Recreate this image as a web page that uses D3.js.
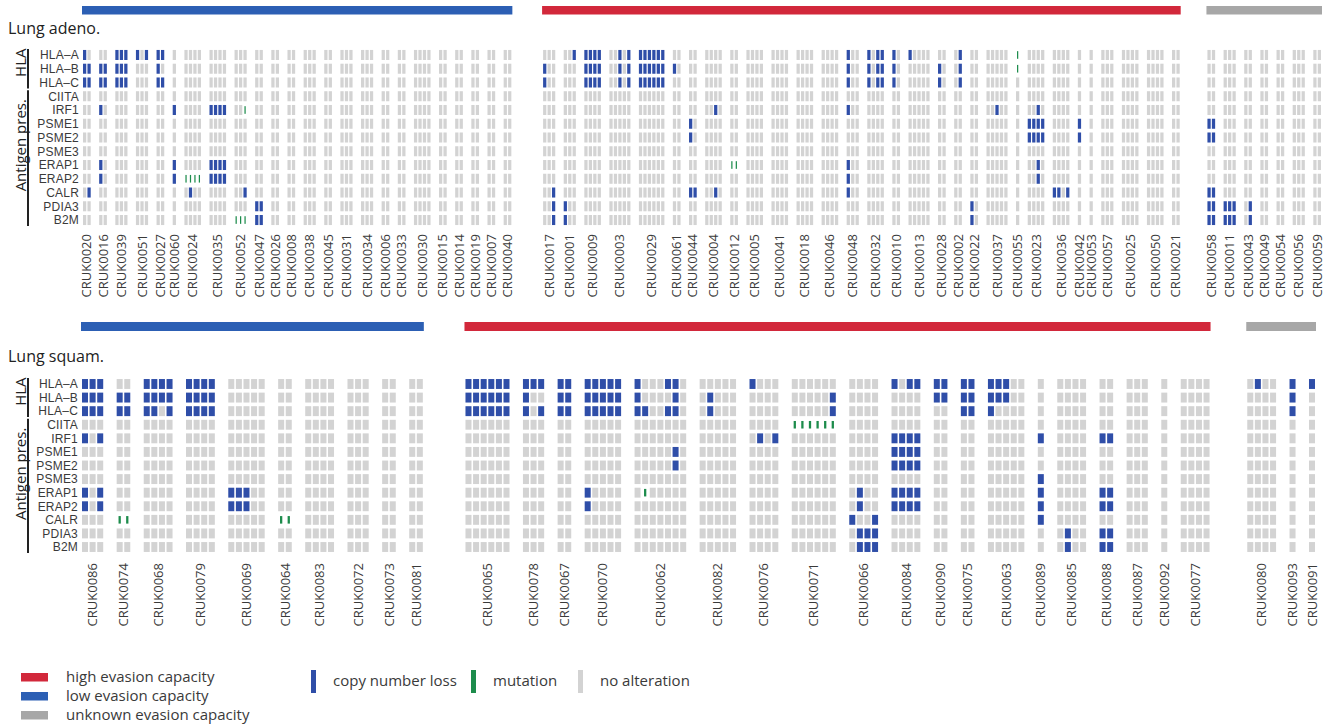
<!DOCTYPE html>
<html>
<head>
<meta charset="utf-8">
<script src="https://cdn.jsdelivr.net/npm/d3@7"></script>
<style>
  html, body { margin: 0; padding: 0; background: #fff; }
  svg { display: block; font-family: "Open Sans", "DejaVu Sans", sans-serif; }
</style>
</head>
<body>
<svg id="chart" width="1333" height="726"></svg>
<script>
// ---------------- data ----------------
const genes = ["HLA-A","HLA-B","HLA-C","CIITA","IRF1","PSME1","PSME2","PSME3","ERAP1","ERAP2","CALR","PDIA3","B2M"];
const geneLabels = ["HLA–A","HLA–B","HLA–C","CIITA","IRF1","PSME1","PSME2","PSME3","ERAP1","ERAP2","CALR","PDIA3","B2M"];
const geneSets = [["HLA","HLA-A","HLA-C"],["Antigen pres.","CIITA","B2M"]];

const capacityLevels = ["high","low","unknown"];
const capacityNames = ["high evasion capacity","low evasion capacity","unknown evasion capacity"];
const alterationKinds = ["L","M","N"];
const alterationNames = ["copy number loss","mutation","no alteration"];

// Lung adenocarcinoma: patients, number of tumour regions, evasion capacity
const adenoPatients = ["CRUK0020","CRUK0016","CRUK0039","CRUK0051","CRUK0027","CRUK0060","CRUK0024","CRUK0035","CRUK0052","CRUK0047","CRUK0026","CRUK0008","CRUK0038","CRUK0045","CRUK0031","CRUK0034","CRUK0006","CRUK0033","CRUK0030","CRUK0015","CRUK0014","CRUK0019","CRUK0007","CRUK0040",
  "CRUK0017","CRUK0001","CRUK0009","CRUK0003","CRUK0029","CRUK0061","CRUK0044","CRUK0004","CRUK0012","CRUK0005","CRUK0041","CRUK0018","CRUK0046","CRUK0048","CRUK0032","CRUK0010","CRUK0013","CRUK0028","CRUK0002","CRUK0022","CRUK0037","CRUK0055","CRUK0023","CRUK0036","CRUK0042","CRUK0053","CRUK0057","CRUK0025","CRUK0050","CRUK0021",
  "CRUK0058","CRUK0011","CRUK0043","CRUK0049","CRUK0054","CRUK0056","CRUK0059"];
const adenoRegions = [2,2,3,3,2,1,4,4,3,2,2,2,3,2,3,3,2,2,4,2,2,2,2,2,
  3,3,4,5,6,2,2,4,2,4,4,4,4,3,4,2,5,2,2,2,5,1,4,4,1,1,3,4,4,2,
  2,3,2,2,2,3,2];
const adenoCapacity = [].concat(Array(24).fill("low"), Array(30).fill("high"), Array(7).fill("unknown"));

// events: patient, gene, regions, kind (L = copy number loss, M = mutation)
const adenoEvents = [
  ["CRUK0020","HLA-A",[1],"L"],["CRUK0020","HLA-B",[1,2],"L"],["CRUK0020","HLA-C",[1,2],"L"],["CRUK0020","CALR",[2],"L"],
  ["CRUK0016","HLA-B",[1,2],"L"],["CRUK0016","HLA-C",[1,2],"L"],["CRUK0016","IRF1",[1],"L"],["CRUK0016","ERAP1",[1],"L"],["CRUK0016","ERAP2",[1],"L"],
  ["CRUK0039","HLA-A",[1,2,3],"L"],["CRUK0039","HLA-B",[1,2,3],"L"],["CRUK0039","HLA-C",[1,2,3],"L"],
  ["CRUK0051","HLA-A",[1,3],"L"],
  ["CRUK0027","HLA-A",[1,2],"L"],["CRUK0027","HLA-B",[1],"L"],["CRUK0027","HLA-C",[1,2],"L"],
  ["CRUK0060","IRF1",[1],"L"],["CRUK0060","ERAP1",[1],"L"],["CRUK0060","ERAP2",[1],"L"],
  ["CRUK0024","ERAP2",[1,2,3,4],"M"],["CRUK0024","CALR",[2],"L"],
  ["CRUK0035","IRF1",[1,2,3,4],"L"],["CRUK0035","ERAP1",[1,2,3,4],"L"],["CRUK0035","ERAP2",[1,2,3,4],"L"],
  ["CRUK0052","IRF1",[3],"M"],["CRUK0052","CALR",[3],"L"],["CRUK0052","B2M",[1,2,3],"M"],
  ["CRUK0047","PDIA3",[1,2],"L"],["CRUK0047","B2M",[1,2],"L"],
  ["CRUK0017","HLA-B",[1],"L"],["CRUK0017","HLA-C",[1],"L"],["CRUK0017","CALR",[3],"L"],["CRUK0017","PDIA3",[3],"L"],["CRUK0017","B2M",[3],"L"],
  ["CRUK0001","HLA-A",[3],"L"],["CRUK0001","PDIA3",[1],"L"],["CRUK0001","B2M",[1],"L"],
  ["CRUK0009","HLA-A",[1,2,3,4],"L"],["CRUK0009","HLA-B",[1,2,3,4],"L"],["CRUK0009","HLA-C",[1,2,3,4],"L"],
  ["CRUK0003","HLA-A",[3,5],"L"],["CRUK0003","HLA-B",[3,5],"L"],["CRUK0003","HLA-C",[3,5],"L"],
  ["CRUK0029","HLA-A",[1,2,3,4,5,6],"L"],["CRUK0029","HLA-B",[1,2,3,4,5,6],"L"],["CRUK0029","HLA-C",[1,2,3,4,5,6],"L"],
  ["CRUK0061","HLA-B",[1],"L"],
  ["CRUK0044","PSME1",[1],"L"],["CRUK0044","PSME2",[1],"L"],["CRUK0044","CALR",[1,2],"L"],
  ["CRUK0004","IRF1",[3],"L"],["CRUK0004","CALR",[3],"L"],
  ["CRUK0012","ERAP1",[1,2],"M"],
  ["CRUK0048","HLA-A",[1],"L"],["CRUK0048","HLA-B",[1],"L"],["CRUK0048","HLA-C",[1],"L"],["CRUK0048","IRF1",[1],"L"],["CRUK0048","ERAP1",[1],"L"],["CRUK0048","ERAP2",[1],"L"],["CRUK0048","CALR",[1],"L"],
  ["CRUK0032","HLA-A",[1,3,4],"L"],["CRUK0032","HLA-B",[1,3,4],"L"],["CRUK0032","HLA-C",[1,3,4],"L"],
  ["CRUK0010","HLA-A",[1],"L"],["CRUK0010","HLA-B",[1],"L"],["CRUK0010","HLA-C",[1],"L"],
  ["CRUK0013","HLA-A",[1],"L"],
  ["CRUK0028","HLA-B",[1],"L"],["CRUK0028","HLA-C",[1],"L"],
  ["CRUK0002","HLA-A",[2],"L"],["CRUK0002","HLA-B",[2],"L"],["CRUK0002","HLA-C",[2],"L"],
  ["CRUK0022","PDIA3",[1],"L"],["CRUK0022","B2M",[1],"L"],
  ["CRUK0037","IRF1",[3],"L"],
  ["CRUK0055","HLA-A",[1],"M"],["CRUK0055","HLA-B",[1],"M"],
  ["CRUK0023","IRF1",[3],"L"],["CRUK0023","PSME1",[1,2,3,4],"L"],["CRUK0023","PSME2",[1,2,3,4],"L"],["CRUK0023","ERAP1",[3],"L"],["CRUK0023","ERAP2",[3],"L"],
  ["CRUK0036","CALR",[1,2,4],"L"],
  ["CRUK0042","PSME1",[1],"L"],["CRUK0042","PSME2",[1],"L"],
  ["CRUK0058","PSME1",[1,2],"L"],["CRUK0058","PSME2",[1,2],"L"],["CRUK0058","CALR",[1,2],"L"],["CRUK0058","PDIA3",[1,2],"L"],["CRUK0058","B2M",[1,2],"L"],
  ["CRUK0011","PDIA3",[1,2,3],"L"],["CRUK0011","B2M",[1,2,3],"L"],
  ["CRUK0043","PDIA3",[2],"L"],["CRUK0043","B2M",[2],"L"]
];

// Lung squamous cell carcinoma
const squamPatients = ["CRUK0086","CRUK0074","CRUK0068","CRUK0079","CRUK0069","CRUK0064","CRUK0083","CRUK0072","CRUK0073","CRUK0081",
  "CRUK0065","CRUK0078","CRUK0067","CRUK0070","CRUK0062","CRUK0082","CRUK0076","CRUK0071","CRUK0066","CRUK0084","CRUK0090","CRUK0075","CRUK0063","CRUK0089","CRUK0085","CRUK0088","CRUK0087","CRUK0092","CRUK0077",
  "CRUK0080","CRUK0093","CRUK0091"];
const squamRegions = [3,2,4,4,5,2,4,3,2,2,
  6,3,2,5,7,5,4,6,4,4,2,2,5,1,4,2,3,1,4,
  4,1,1];
const squamCapacity = [].concat(Array(10).fill("low"), Array(19).fill("high"), Array(3).fill("unknown"));

const squamEvents = [
  ["CRUK0086","HLA-A",[1,2,3],"L"],["CRUK0086","HLA-B",[1,2,3],"L"],["CRUK0086","HLA-C",[1,2,3],"L"],["CRUK0086","IRF1",[1,3],"L"],["CRUK0086","ERAP1",[1,3],"L"],["CRUK0086","ERAP2",[1,3],"L"],
  ["CRUK0074","HLA-B",[1,2],"L"],["CRUK0074","HLA-C",[1,2],"L"],["CRUK0074","CALR",[1,2],"M"],
  ["CRUK0068","HLA-A",[1,2,3,4],"L"],["CRUK0068","HLA-B",[1,2,3,4],"L"],["CRUK0068","HLA-C",[1,2,4],"L"],
  ["CRUK0079","HLA-A",[1,2,3,4],"L"],["CRUK0079","HLA-B",[1,2,3,4],"L"],["CRUK0079","HLA-C",[1,2,3,4],"L"],
  ["CRUK0069","ERAP1",[1,2,3],"L"],["CRUK0069","ERAP2",[1,2,3],"L"],
  ["CRUK0064","CALR",[1,2],"M"],
  ["CRUK0065","HLA-A",[1,2,3,4,5,6],"L"],["CRUK0065","HLA-B",[1,2,3,4,5,6],"L"],["CRUK0065","HLA-C",[1,2,3,4,5,6],"L"],
  ["CRUK0078","HLA-A",[1,2,3],"L"],["CRUK0078","HLA-B",[1],"L"],["CRUK0078","HLA-C",[1,3],"L"],
  ["CRUK0067","HLA-A",[1,2],"L"],["CRUK0067","HLA-B",[1,2],"L"],["CRUK0067","HLA-C",[1,2],"L"],
  ["CRUK0070","HLA-A",[1,2,3,4,5],"L"],["CRUK0070","HLA-B",[1,2,3,4,5],"L"],["CRUK0070","HLA-C",[1,2,3,4,5],"L"],["CRUK0070","ERAP1",[1],"L"],["CRUK0070","ERAP2",[1],"L"],
  ["CRUK0062","HLA-A",[1,5,6],"L"],["CRUK0062","HLA-B",[1,6],"L"],["CRUK0062","HLA-C",[1,2,5,6],"L"],["CRUK0062","PSME1",[6],"L"],["CRUK0062","PSME2",[6],"L"],["CRUK0062","ERAP1",[2],"M"],
  ["CRUK0082","HLA-B",[2],"L"],["CRUK0082","HLA-C",[2],"L"],
  ["CRUK0076","HLA-A",[1],"L"],["CRUK0076","IRF1",[2,4],"L"],
  ["CRUK0071","CIITA",[1,2,3,4,5,6],"M"],["CRUK0071","HLA-B",[6],"L"],["CRUK0071","HLA-C",[6],"L"],
  ["CRUK0066","ERAP1",[2],"L"],["CRUK0066","ERAP2",[2],"L"],["CRUK0066","CALR",[1,4],"L"],["CRUK0066","PDIA3",[2,3,4],"L"],["CRUK0066","B2M",[2,3,4],"L"],
  ["CRUK0084","HLA-A",[1,3,4],"L"],["CRUK0084","IRF1",[1,2,3,4],"L"],["CRUK0084","PSME1",[1,2,3,4],"L"],["CRUK0084","PSME2",[1,2,3,4],"L"],["CRUK0084","ERAP1",[1,2,3,4],"L"],["CRUK0084","ERAP2",[1,2,3,4],"L"],
  ["CRUK0090","HLA-A",[1,2],"L"],["CRUK0090","HLA-B",[1,2],"L"],
  ["CRUK0075","HLA-A",[1,2],"L"],["CRUK0075","HLA-B",[1,2],"L"],["CRUK0075","HLA-C",[1,2],"L"],
  ["CRUK0063","HLA-A",[1,2,3],"L"],["CRUK0063","HLA-B",[1,2,3],"L"],["CRUK0063","HLA-C",[1],"L"],
  ["CRUK0089","IRF1",[1],"L"],["CRUK0089","PSME3",[1],"L"],["CRUK0089","ERAP1",[1],"L"],["CRUK0089","ERAP2",[1],"L"],["CRUK0089","CALR",[1],"L"],
  ["CRUK0085","PDIA3",[2],"L"],["CRUK0085","B2M",[2],"L"],
  ["CRUK0088","IRF1",[1,2],"L"],["CRUK0088","ERAP1",[1,2],"L"],["CRUK0088","ERAP2",[1,2],"L"],["CRUK0088","PDIA3",[1,2],"L"],["CRUK0088","B2M",[1,2],"L"],
  ["CRUK0080","HLA-A",[2],"L"],
  ["CRUK0093","HLA-A",[1],"L"],["CRUK0093","HLA-B",[1],"L"],["CRUK0093","HLA-C",[1],"L"],
  ["CRUK0091","HLA-A",[1],"L"]
];

// ---------------- styling ----------------
const capacityColor = d3.scaleOrdinal().domain(capacityLevels).range(["#d2283b","#2c5fb4","#a7a7a7"]);
const cellColor = d3.scaleOrdinal().domain(alterationKinds).range(["#2f4ea8","#1d8c4c","#d3d3d3"]);
const textColor = "#3a3a3a";

const panels = [
  { title: "Lung adeno.", titleY: 34, patients: adenoPatients, regions: adenoRegions, capacity: adenoCapacity, events: adenoEvents,
    x0: 83, x1: 1321, barY: 6, barH: 8.5, rowTop: 48.1, rowBottom: 226.9, labelY: 234,
    cellFrac: 0.73, patientGap: 1.63, groupGaps: [6.86, 5.96] },
  { title: "Lung squam.", titleY: 362, patients: squamPatients, regions: squamRegions, capacity: squamCapacity, events: squamEvents,
    x0: 82, x1: 1315, barY: 322, barH: 9, rowTop: 377.2, rowBottom: 553.8, labelY: 563,
    cellFrac: 0.79, patientGap: 1.56, groupGaps: [5.4, 4.75] }
];

const svg = d3.select("#chart");

panels.forEach(P => {
  // column layout in abstract units: 1 unit per region, extra units between patients / capacity groups
  let u = 0, groupIndex = 0;
  const cols = [], pats = [];
  P.patients.forEach((p, i) => {
    if (i > 0) {
      if (P.capacity[i] !== P.capacity[i - 1]) u += P.groupGaps[groupIndex++];
      else u += P.patientGap;
    }
    const start = u;
    for (let r = 0; r < P.regions[i]; r++) { cols.push({ patient: p, region: r + 1, u }); u += 1; }
    pats.push({ patient: p, capacity: P.capacity[i], start, end: u - (1 - P.cellFrac) });
  });
  const x = d3.scaleLinear().domain([0, u - (1 - P.cellFrac)]).range([P.x0, P.x1]);
  const y = d3.scaleBand().domain(genes).range([P.rowTop, P.rowBottom]).paddingInner(0.27).paddingOuter(0.135);
  const cw = x(P.cellFrac) - x(0);

  const g = svg.append("g");

  // title
  g.append("text").attr("x", 8).attr("y", P.titleY).attr("font-size", 16).attr("fill", "#222").text(P.title);

  // evasion capacity bars
  const groupSpans = d3.rollups(pats, v => [d3.min(v, d => d.start), d3.max(v, d => d.end)], d => d.capacity);
  g.selectAll("rect.cap").data(groupSpans).join("rect")
    .attr("x", d => x(d[1][0]) - 1).attr("width", d => x(d[1][1]) - x(d[1][0]) + 2)
    .attr("y", P.barY).attr("height", P.barH)
    .attr("fill", d => capacityColor(d[0]));

  // alteration lookup
  const lookup = new Map();
  P.events.forEach(([pt, gene, regs, kind]) => regs.forEach(r => lookup.set(pt + "|" + r + "|" + gene, kind)));

  const cells = [];
  cols.forEach(c => genes.forEach(gene => cells.push({ ...c, gene, kind: lookup.get(c.patient + "|" + c.region + "|" + gene) || "N" })));

  g.selectAll("rect.cell").data(cells.filter(d => d.kind !== "M")).join("rect")
    .attr("x", d => x(d.u)).attr("width", cw)
    .attr("y", d => y(d.gene)).attr("height", y.bandwidth())
    .attr("fill", d => cellColor(d.kind));

  // mutations drawn as a narrow bar in the middle of the cell
  const mw = Math.max(1.2, cw * 0.38);
  g.selectAll("rect.mut").data(cells.filter(d => d.kind === "M")).join("rect")
    .attr("x", d => x(d.u) + (cw - mw) / 2).attr("width", mw)
    .attr("y", d => y(d.gene) + y.bandwidth() * 0.12).attr("height", y.bandwidth() * 0.76)
    .attr("fill", cellColor("M"));

  // gene labels
  g.selectAll("text.gene").data(genes).join("text")
    .attr("x", P.x0 - 4).attr("y", d => y(d) + y.bandwidth() / 2).attr("dy", "0.36em")
    .attr("text-anchor", "end").attr("font-size", 12).attr("font-family", "'Liberation Sans', Arial, sans-serif")
    .attr("letter-spacing", 0.2).attr("fill", textColor)
    .text((d, i) => geneLabels[i]);

  // gene set brackets
  geneSets.forEach(([name, first, last]) => {
    const ya = y(first) - 1, yb = y(last) + y.bandwidth() + 1;
    g.append("line").attr("x1", 28).attr("x2", 28).attr("y1", ya).attr("y2", yb)
      .attr("stroke", "#222").attr("stroke-width", 2);
    const cy = name === "HLA" ? (ya + yb) / 2 - 6 : ya + 55;
    g.append("text").attr("transform", `translate(25.5,${cy}) rotate(-90)`)
      .attr("text-anchor", "middle").attr("font-size", 15).attr("fill", "#222").text(name);
  });

  // patient labels
  g.selectAll("text.pt").data(pats).join("text")
    .attr("transform", d => `translate(${(x(d.start) + x(d.end)) / 2},${P.labelY}) rotate(-90)`)
    .attr("dy", "0.35em").attr("text-anchor", "end").attr("font-size", 13).attr("fill", textColor)
    .text(d => d.patient);
});

// ---------------- legends ----------------
const leg = svg.append("g");
leg.selectAll("rect.lc").data(capacityLevels).join("rect")
  .attr("x", 21).attr("width", 27).attr("y", (d, i) => 673 + i * 19).attr("height", 8.5)
  .attr("fill", d => capacityColor(d));
leg.selectAll("text.lc").data(capacityNames).join("text")
  .attr("x", 66).attr("y", (d, i) => 677 + i * 19).attr("dy", "0.35em")
  .attr("font-size", 15).attr("fill", textColor).text(d => d);

const altX = [311, 471, 578];
leg.selectAll("rect.la").data(alterationKinds).join("rect")
  .attr("x", (d, i) => altX[i]).attr("width", 5).attr("y", 670).attr("height", 23)
  .attr("fill", d => cellColor(d));
leg.selectAll("text.la").data(alterationNames).join("text")
  .attr("x", (d, i) => altX[i] + 22).attr("y", 681).attr("dy", "0.35em")
  .attr("font-size", 15).attr("fill", textColor).text(d => d);
</script>
</body>
</html>
